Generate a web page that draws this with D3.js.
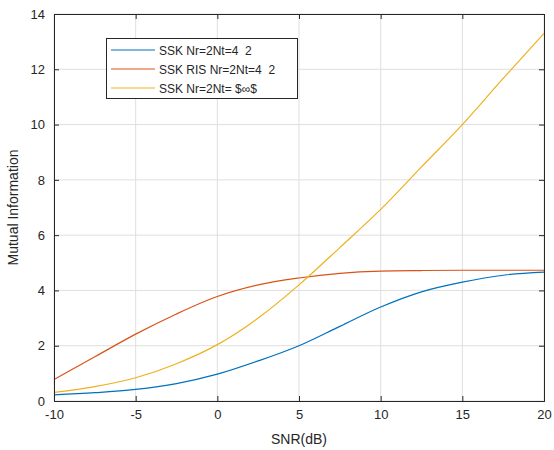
<!DOCTYPE html>
<html>
  <head>
  <meta charset="utf-8">
  <title>Mutual Information vs SNR</title>
  <script src="https://cdn.jsdelivr.net/npm/d3@7"></script>
  <style type="text/css">
    body { margin: 0; background: #fff; }
    text { font-family: "Liberation Sans", Arial, sans-serif; fill: #262626; white-space: pre; }
  </style>
  </head>
  <body>
  </body>
  <script type="text/javascript">
    // data
    var snr = [-10, -7.5, -5, -2.5, 0, 2.5, 5, 7.5, 10, 12.5, 15, 17.5, 20];
    var ssk = [0.22, 0.30, 0.42, 0.63, 0.97, 1.45, 2.0, 2.7, 3.4, 3.95, 4.3, 4.55, 4.66];
    var sskRis = [0.78, 1.6, 2.42, 3.15, 3.78, 4.2, 4.45, 4.62, 4.7, 4.72, 4.73, 4.73, 4.73];
    var sskInf = [0.31, 0.52, 0.84, 1.35, 2.04, 3.0, 4.2, 5.55, 6.93, 8.47, 10.0, 11.67, 13.3];
    var seriesNames = ["SSK Nr=2Nt=4  2", "SSK RIS Nr=2Nt=4  2", "SSK Nr=2Nt= $\u221E$"];
    var colors = ["#0072BD", "#D95319", "#EDB120"];
    var xTicks = [-10, -5, 0, 5, 10, 15, 20];
    var yTicks = [0, 2, 4, 6, 8, 10, 12, 14];

    var w = 554, h = 450;
    var pLeft = 54, pRight = 544, pTop = 14, pBottom = 401;

    var svg = d3.select("body").append("svg")
      .attr("width", w)
      .attr("height", h);

    var x = d3.scaleLinear().domain([-10, 20]).range([pLeft, pRight]);
    var y = d3.scaleLinear().domain([0, 14]).range([pBottom, pTop]);

    // grid
    svg.append("g").selectAll("line").data(xTicks).enter().append("line")
      .attr("x1", function(d) { return x(d); })
      .attr("x2", function(d) { return x(d); })
      .attr("y1", pTop).attr("y2", pBottom)
      .attr("stroke", "#dfdfdf").attr("stroke-width", 1);
    svg.append("g").selectAll("line").data(yTicks).enter().append("line")
      .attr("y1", function(d) { return y(d); })
      .attr("y2", function(d) { return y(d); })
      .attr("x1", pLeft).attr("x2", pRight)
      .attr("stroke", "#dfdfdf").attr("stroke-width", 1);

    // lines
    var allSeries = [ssk, sskRis, sskInf];
    var line = d3.line()
      .x(function(d, i) { return x(snr[i]); })
      .y(function(d) { return y(d); })
      .curve(d3.curveMonotoneX);

    svg.append("g").selectAll("path").data(allSeries).enter().append("path")
      .attr("d", line)
      .attr("fill", "none")
      .attr("stroke", function(d, i) { return colors[i]; })
      .attr("stroke-width", 1.2);

    // axes, ticks inward on all sides
    var axisColor = "#262626";
    var tickFmt = function(d) { return String(d); };
    svg.append("g").attr("transform", "translate(0," + pBottom + ")")
      .call(d3.axisBottom(x).tickValues(xTicks).tickSize(-5).tickPadding(9).tickFormat(tickFmt))
      .call(function(g) {
        g.selectAll("text").attr("font-size", 13).attr("fill", axisColor)
          .attr("font-family", "Liberation Sans, Arial, sans-serif");
        g.selectAll("line, path").attr("stroke", axisColor);
      });
    svg.append("g").attr("transform", "translate(0," + pTop + ")")
      .call(d3.axisTop(x).tickValues(xTicks).tickSize(-5).tickFormat(""))
      .call(function(g) { g.selectAll("line, path").attr("stroke", axisColor); });
    svg.append("g").attr("transform", "translate(" + pLeft + ",0)")
      .call(d3.axisLeft(y).tickValues(yTicks).tickSize(-5).tickPadding(9).tickFormat(tickFmt))
      .call(function(g) {
        g.selectAll("text").attr("font-size", 13).attr("fill", axisColor)
          .attr("font-family", "Liberation Sans, Arial, sans-serif");
        g.selectAll("line, path").attr("stroke", axisColor);
      });
    svg.append("g").attr("transform", "translate(" + pRight + ",0)")
      .call(d3.axisRight(y).tickValues(yTicks).tickSize(-5).tickFormat(""))
      .call(function(g) { g.selectAll("line, path").attr("stroke", axisColor); });

    // axis labels
    svg.append("text")
      .attr("x", (pLeft + pRight) / 2).attr("y", 444)
      .attr("text-anchor", "middle").attr("font-size", 14)
      .text("SNR(dB)");
    svg.append("text")
      .attr("transform", "translate(18," + ((pTop + pBottom) / 2) + ") rotate(-90)")
      .attr("text-anchor", "middle").attr("font-size", 14)
      .text("Mutual Information");

    // legend
    var lg = svg.append("g");
    lg.append("rect")
      .attr("x", 106.5).attr("y", 38.5).attr("width", 191).attr("height", 60)
      .attr("fill", "#fff").attr("stroke", axisColor).attr("stroke-width", 1);
    var rows = lg.selectAll("g.row").data(seriesNames).enter().append("g")
      .attr("transform", function(d, i) { return "translate(0," + (50 + i * 19) + ")"; });
    rows.append("line")
      .attr("x1", 111).attr("x2", 155).attr("y1", 0).attr("y2", 0)
      .attr("stroke", function(d, i) { return colors[i]; })
      .attr("stroke-width", 1.2);
    rows.append("text")
      .attr("x", 159).attr("y", 4.5)
      .attr("font-size", 12)
      .text(function(d) { return d; });
  </script>
</html>
